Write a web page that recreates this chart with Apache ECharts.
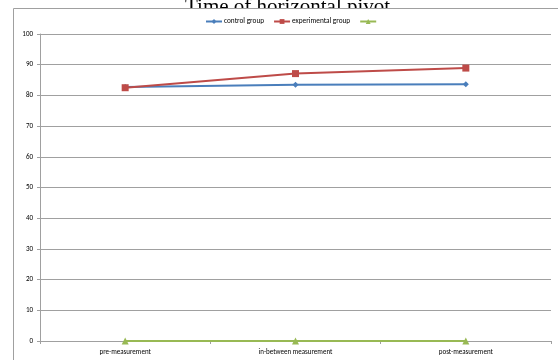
<!DOCTYPE html>
<html><head><meta charset="utf-8">
<script src="https://cdn.jsdelivr.net/npm/echarts@6/dist/echarts.min.js"></script>
<style>html,body{margin:0;padding:0;background:#fff}#c{width:558px;height:360px}</style>
</head><body><div id="c"></div>
<script>
const categories = ['pre-measurement', 'in-between measurement', 'post-measurement'];
const controlGroup = [82.7, 83.5, 83.6];
const experimentalGroup = [82.5, 87.1, 88.9];
const thirdSeries = [0, 0, 0];
const yTicks = {min: 0, max: 100, interval: 10};

const chart = echarts.init(document.getElementById('c'));
const lab = {fontFamily: 'Carlito, Calibri, "Open Sans", sans-serif', fontSize: 7, color: '#000'};
chart.setOption({
  animation: false,
  title: {
    text: 'Time of horizontal pivot', left: 180, top: -8, z: 0, zlevel: 0,
    textStyle: {fontFamily: '"Liberation Serif", "Times New Roman", serif', fontSize: 21, fontWeight: 'normal', color: '#000'}
  },
  graphic: [{
    type: 'rect', z: 1, zlevel: 0, silent: true,
    shape: {x: 13.5, y: 8.5, width: 600, height: 400},
    style: {fill: '#fff', stroke: '#a0a0a0', lineWidth: 1}
  }],
  legend: {
    top: 13, left: 200, itemWidth: 16, itemHeight: 6, itemGap: 9, z: 5,
    textStyle: Object.assign({}, lab, {fontSize: 7.3, padding: [0, 0, 0, -3]}),
    data: ['control group', 'experimental group', ' ']
  },
  grid: {left: 40, right: 7, top: 34, bottom: 19, containLabel: false, z: 5},
  xAxis: {
    type: 'category', data: categories, boundaryGap: true, z: 5,
    axisLine: {lineStyle: {color: '#a0a0a0', width: 1}},
    axisTick: {show: true, length: 3, inside: false, lineStyle: {color: '#a0a0a0'}},
    axisLabel: Object.assign({margin: 8}, lab)
  },
  yAxis: {
    type: 'value', min: yTicks.min, max: yTicks.max, interval: yTicks.interval, z: 5,
    axisLine: {show: true, lineStyle: {color: '#a0a0a0', width: 1}},
    axisTick: {show: true, length: 3, lineStyle: {color: '#a0a0a0'}},
    splitLine: {lineStyle: {color: '#a0a0a0', width: 1}},
    axisLabel: Object.assign({margin: 7}, lab)
  },
  series: [
    {name: 'control group', type: 'line', data: controlGroup, z: 6, symbol: 'diamond', symbolSize: 6,
     itemStyle: {color: '#4A7EBB'}, lineStyle: {color: '#4A7EBB', width: 2}},
    {name: 'experimental group', type: 'line', data: experimentalGroup, z: 6, symbol: 'rect', symbolSize: 7,
     itemStyle: {color: '#BE4B48'}, lineStyle: {color: '#BE4B48', width: 2}},
    {name: ' ', type: 'line', data: thirdSeries, z: 6, symbol: 'triangle', symbolSize: 7,
     itemStyle: {color: '#98B954'}, lineStyle: {color: '#98B954', width: 2}}
  ]
});
</script></body></html>
